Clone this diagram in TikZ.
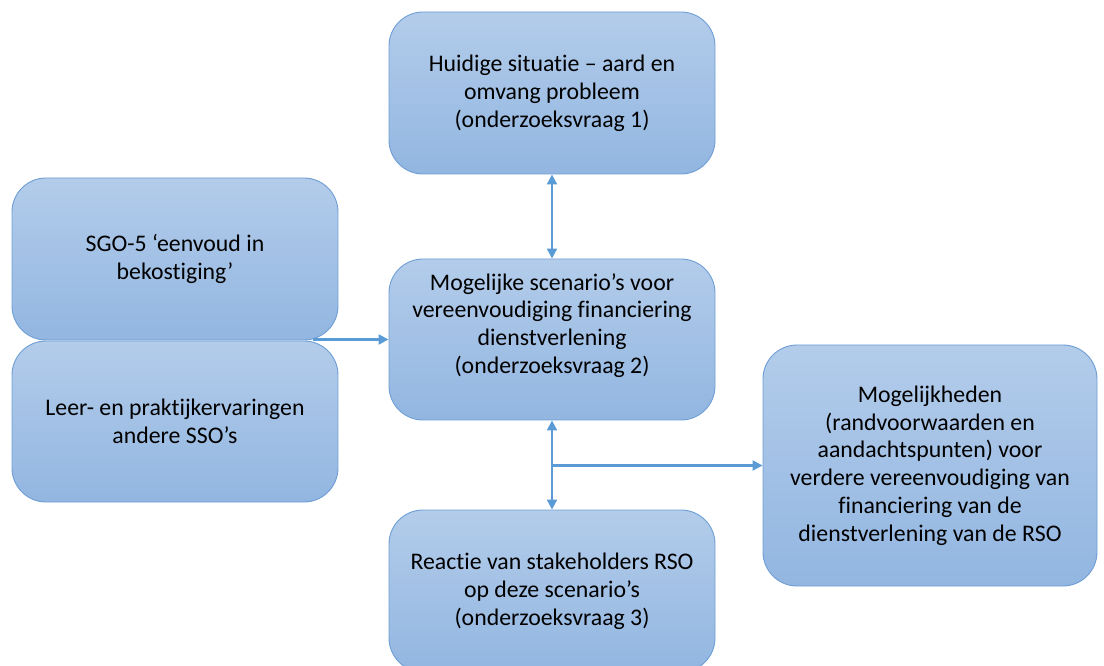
\documentclass[tikz,border=0pt]{standalone}
\usepackage{fontspec}
\setmainfont{Carlito}[Ligatures={NoCommon}]
\usetikzlibrary{arrows.meta}
\definecolor{boxtop}{RGB}{179,204,234}
\definecolor{boxbot}{RGB}{146,182,225}
\definecolor{boxline}{RGB}{110,158,212}
\definecolor{arrowc}{RGB}{91,155,213}
\tikzset{
  box/.style={draw=boxline, line width=0.9pt, rounded corners=34pt,
    top color=boxtop, bottom color=boxbot, align=center,
    font=\fontsize{23.8}{27.8}\selectfont, inner sep=0pt},
  conn/.style={draw=arrowc, line width=2.2pt, arrows={-Triangle[length=10pt,width=10pt]}},
  dconn/.style={conn, arrows={Triangle[length=10pt,width=10pt]-Triangle[length=10pt,width=10pt]}}
}
\begin{document}
\begin{tikzpicture}[x=1pt,y=1pt]
\useasboundingbox (0,0) rectangle (1104,665);
\clip (0,0) rectangle (1104,665);
\node[box, minimum width=326pt, minimum height=162pt] (top) at (552,572)
  {Huidige situatie – aard en\\omvang probleem\\(onderzoeksvraag 1)};
\node[box, minimum width=326pt, minimum height=161pt] (mid) at (552,325.5) {};
\node[align=center, font=\fontsize{23.8}{27.8}\selectfont, inner sep=0pt] (midtext) at (552,339.5)
  {Mogelijke scenario’s voor\\vereenvoudiging financiering\\dienstverlening\\(onderzoeksvraag 2)};
\node[box, minimum width=326pt, minimum height=162pt] (bot) at (552,74)
  {Reactie van stakeholders RSO\\op deze scenario’s\\(onderzoeksvraag 3)};
\node[box, minimum width=326pt, minimum height=162pt] (sgo) at (175,406)
  {SGO-5 ‘eenvoud in\\bekostiging’};
\node[box, minimum width=326pt, minimum height=161pt] (leer) at (175,243.5)
  {Leer- en praktijkervaringen\\andere SSO’s};
\node[box, minimum width=334pt, minimum height=241pt] (right) at (930,199.5)
  {Mogelijkheden\\(randvoorwaarden en\\aandachtspunten) voor\\verdere vereenvoudiging van\\financiering van de\\dienstverlening van de RSO};
\coordinate (src) at (313,325.5);
\coordinate (junc) at (mid.south |- right.west);
\draw[conn] (src) -- (mid.west);
\draw[dconn] (top.south) -- (mid.north);
\draw[dconn] (mid.south) -- (bot.north);
\draw[conn] (junc) -- (right.west);
\end{tikzpicture}
\end{document}
